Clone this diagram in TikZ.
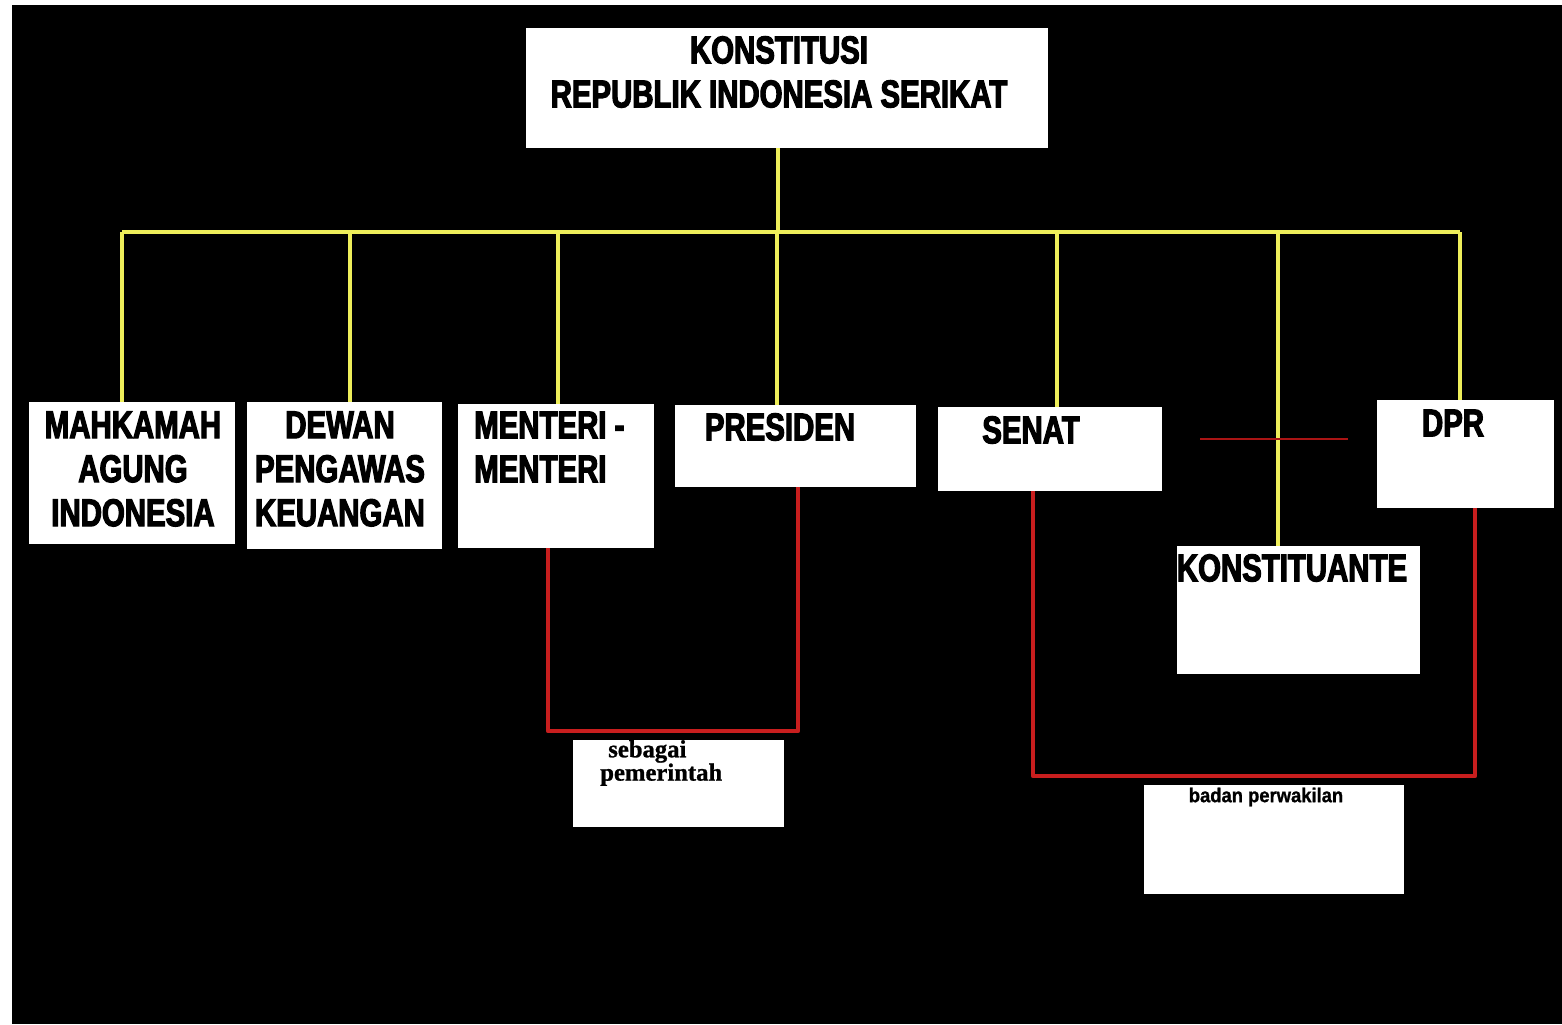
\documentclass[tikz,border=0pt]{standalone}
\usepackage{fontspec}
\newfontfamily\impact[FakeStretch=0.76,FakeBold=3]{Liberation Sans}
\newfontfamily\smallsans[FakeStretch=0.92,FakeBold=1]{Liberation Sans}
\newfontfamily\smallserif[FakeBold=1]{Liberation Serif}
\usetikzlibrary{fit}
\definecolor{linkyellow}{RGB}{238,238,90}
\definecolor{linkred}{RGB}{200,30,30}
\definecolor{thinred}{RGB}{170,20,20}
\begin{document}
\begin{tikzpicture}[x=0.75pt,y=-0.75pt,
  box/.style={fill=white,draw=none,rectangle,inner sep=0pt},
  lbl/.style={font=\impact\bfseries\fontsize{29}{33}\selectfont,align=center,inner sep=0pt,text=black},
  smalllbl/.style={font=\smallsans\bfseries\fontsize{15}{17}\selectfont,inner sep=0pt,text=black},
  seriflbl/.style={font=\smallserif\bfseries\fontsize{18.5}{17.5}\selectfont,align=left,inner sep=0pt,text=black},
  ylink/.style={draw=linkyellow,line width=3pt},
  rlink/.style={draw=linkred,line width=3.2pt},
  tlink/.style={draw=thinred,line width=1pt}]
\useasboundingbox (0,0) rectangle (1562,1024);
\fill[white] (0,0) rectangle (1562,1024);
\fill[black] (12,5) rectangle (1562,1024);

% boxes
\node[box,fit={(526,28) (1048,148)}] (krs) {};
\node[box,fit={(29,402) (235,544)}] (ma) {};
\node[box,fit={(247,402) (442,549)}] (dpk) {};
\node[box,fit={(458,404) (654,548)}] (men) {};
\node[box,fit={(675,405) (916,487)}] (pres) {};
\node[box,fit={(938,407) (1162,491)}] (senat) {};
\node[box,fit={(1377,400) (1554,508)}] (dpr) {};
\node[box,fit={(1177,546) (1420,674)}] (konst) {};
\node[box,fit={(573,740) (784,827)}] (pem) {};
\node[box,fit={(1144,785) (1404,894)}] (badan) {};

% labels
\node[lbl] (tkrs) at (779,72) {KONSTITUSI\\REPUBLIK INDONESIA SERIKAT};
\node[lbl] (tma) at (133,469) {MAHKAMAH\\AGUNG\\INDONESIA};
\node[lbl] (tdpk) at (340,469) {DEWAN\\PENGAWAS\\KEUANGAN};
\node[lbl,align=left,anchor=west] (tmen) at (474,447) {MENTERI -\\MENTERI};
\node[lbl] (tpres) at (780,427) {PRESIDEN};
\node[lbl] (tsenat) at (1031,430) {SENAT};
\node[lbl] (tdpr) at (1453,423) {DPR};
\node[lbl] (tkonst) at (1292,568) {KONSTITUANTE};
\node[seriflbl,anchor=west] (tpem) at (600,763) {\hspace{6pt}sebagai\\pemerintah};
\node[smalllbl] (tbadan) at (1266,797) {badan perwakilan};

% yellow tree
\coordinate (j0) at (778,232);
\coordinate (b1) at (122,232);
\coordinate (b2) at (350,232);
\coordinate (b3) at (558,232);
\coordinate (b4) at (777,232);
\coordinate (b5) at (1057,232);
\coordinate (b6) at (1278,232);
\coordinate (b7) at (1460,232);
\draw[ylink] (krs.south -| j0) -- (j0);
\draw[ylink] (b1) -- (b7);
\draw[ylink] (b1) -- (b1 |- ma.north);
\draw[ylink] (b2) -- (b2 |- dpk.north);
\draw[ylink] (b3) -- (b3 |- men.north);
\draw[ylink] (b4) -- (b4 |- pres.north);
\draw[ylink] (b5) -- (b5 |- senat.north);
\draw[ylink] (b6) -- (b6 |- konst.north);
\draw[ylink] (b7) -- (b7 |- dpr.north);

% thin red cross line
\coordinate (c1) at (1200,439);
\coordinate (c2) at (1348,439);
\draw[tlink] (c1) -- (c2);

% red brackets
\coordinate (r1) at (548,731);
\coordinate (r2) at (798,731);
\draw[rlink,line join=round] (men.south -| r1) -- (r1) -- (r2) -- (r2 |- pres.south);
\coordinate (r3) at (1033,776);
\coordinate (r4) at (1475,776);
\draw[rlink,line join=round] (senat.south -| r3) -- (r3) -- (r4) -- (r4 |- dpr.south);
\end{tikzpicture}
\end{document}
